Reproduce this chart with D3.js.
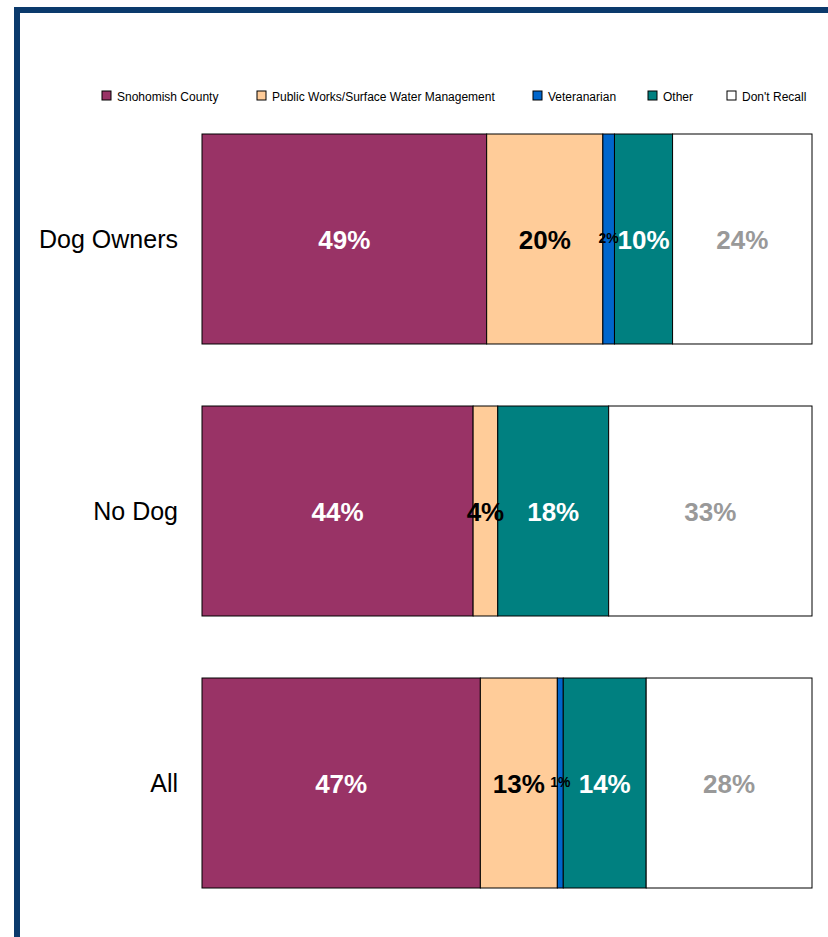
<!DOCTYPE html>
<html>
<head>
<meta charset="utf-8">
<script src="https://cdn.jsdelivr.net/npm/d3@7"></script>
<style>
  html, body { margin: 0; padding: 0; background: #fff; }
  svg { display: block; }
</style>
</head>
<body>
<script>
// Where respondents heard about the program, by group (percent; rows are drawn as 100% stacks)
const categories = ["Dog Owners", "No Dog", "All"];
const seriesNames = ["Snohomish County", "Public Works/Surface Water Management", "Veteranarian", "Other", "Don't Recall"];
const snohomishCounty = [49, 44, 47];
const publicWorks     = [20, 4, 13];
const veterinarian    = [2, 0, 1];
const other           = [10, 18, 14];
const dontRecall      = [24, 33, 28];

const seriesValues = [snohomishCounty, publicWorks, veterinarian, other, dontRecall];
const fills      = ["#993366", "#FFCC99", "#0066CC", "#008080", "#FFFFFF"];
const labelFills = ["#FFFFFF", "#000000", "#000000", "#FFFFFF", "#999999"];

const W = 828, H = 937;
const svg = d3.select("body").append("svg").attr("width", W).attr("height", H);

// frame: navy rule along the top and left edge
svg.append("rect").attr("x", 14).attr("y", 7).attr("width", W - 14).attr("height", 6).attr("fill", "#0B3A6C");
svg.append("rect").attr("x", 14).attr("y", 7).attr("width", 6).attr("height", H - 7).attr("fill", "#0B3A6C");

// build rows, one per category
const rows = categories.map((c, i) => {
  const row = { category: c };
  seriesNames.forEach((s, j) => { row[s] = seriesValues[j][i]; });
  return row;
});

const stacked = d3.stack().keys(seriesNames).offset(d3.stackOffsetExpand)(rows);

const x = d3.scaleLinear().domain([0, 1]).range([202, 812]);
const y = d3.scaleBand().domain(categories).range([134, 888]).paddingInner(0.228).paddingOuter(0);

// bars
const barLayer = svg.append("g");
stacked.forEach((layer, j) => {
  barLayer.append("g").selectAll("rect")
    .data(layer.filter(d => d[1] - d[0] > 0))
    .join("rect")
    .attr("x", d => x(d[0]))
    .attr("y", d => y(d.data.category))
    .attr("width", d => x(d[1]) - x(d[0]))
    .attr("height", y.bandwidth())
    .attr("fill", fills[j])
    .attr("stroke", "#000")
    .attr("stroke-width", 1);
});

// value labels, drawn above every bar so narrow segments can spill over
const labelLayer = svg.append("g");
stacked.forEach((layer, j) => {
  const key = layer.key;
  labelLayer.append("g").selectAll("text")
    .data(layer.filter(d => d.data[key] > 0))
    .join("text")
    .each(function(d) {
      const v = d.data[key];
      const small = (x(d[1]) - x(d[0])) < 15;
      d3.select(this)
        .attr("x", (x(d[0]) + x(d[1])) / 2)
        .attr("y", y(d.data.category) + y.bandwidth() / 2 + (small ? 4 : 10))
        .attr("text-anchor", "middle")
        .attr("font-family", "Liberation Sans, Arial, sans-serif")
        .attr("font-weight", "bold")
        .attr("font-size", small ? 14 : 26)
        .attr("fill", labelFills[j])
        .text(v + "%");
    });
});

// category axis
const yAxis = svg.append("g").attr("transform", "translate(178,0)");
yAxis.selectAll("text").data(categories).join("text")
  .attr("x", 0)
  .attr("y", d => y(d) + y.bandwidth() / 2 + 9)
  .attr("text-anchor", "end")
  .attr("font-family", "Liberation Sans, Arial, sans-serif")
  .attr("font-size", 25)
  .attr("fill", "#000")
  .text(d => d);

// legend
const legendX = [102, 257, 533, 648, 727];
const legend = svg.append("g");
const items = legend.selectAll("g").data(seriesNames).join("g")
  .attr("transform", (d, i) => `translate(${legendX[i]},91)`);
items.append("rect")
  .attr("width", 9).attr("height", 9)
  .attr("fill", (d, i) => fills[i])
  .attr("stroke", "#000").attr("stroke-width", 1);
items.append("text")
  .attr("x", 15).attr("y", 9.5)
  .attr("font-family", "Liberation Sans, Arial, sans-serif")
  .attr("font-size", 12)
  .attr("fill", "#000")
  .text(d => d);
</script>
</body>
</html>
